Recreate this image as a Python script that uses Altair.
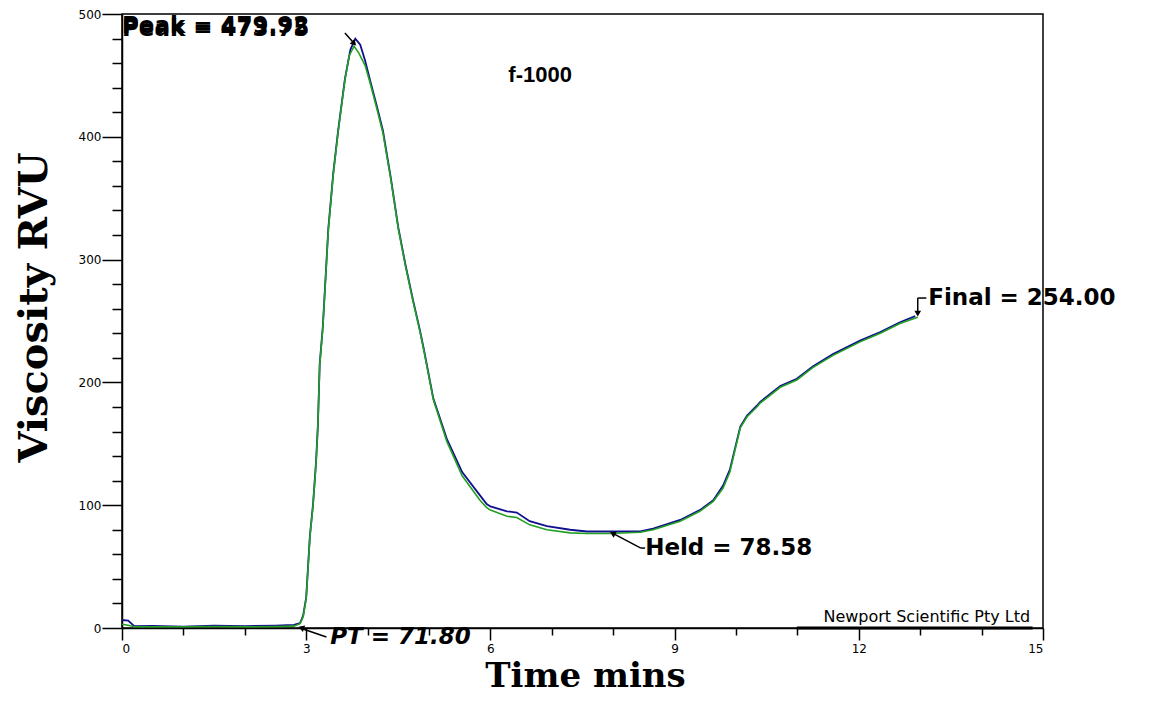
import altair as alt
import pandas as pd

# ---- series (time in minutes, viscosity in RVU) ----
blue_t = [0.00, 0.10, 0.20, 0.50, 1.00, 1.50, 2.00, 2.50, 2.80, 2.90, 2.95, 3.00, 3.03, 3.06,
          3.11, 3.16, 3.19, 3.22, 3.27, 3.36, 3.44, 3.52, 3.63, 3.72, 3.80, 3.88, 3.96, 4.04,
          4.15, 4.25, 4.38, 4.50, 4.62, 4.74, 4.85, 4.92, 5.07, 5.29, 5.54, 5.83, 5.94, 6.00,
          6.27, 6.43, 6.64, 6.92, 7.30, 7.57, 7.95, 8.44, 8.65, 9.09, 9.41, 9.63, 9.79, 9.90,
          10.07, 10.18, 10.34, 10.39, 10.72, 10.99, 11.25, 11.58, 12.02, 12.35, 12.67, 12.92]
blue_v = [6.5, 6.0, 1.5, 1.8, 1.2, 2.0, 1.6, 2.0, 2.5, 4.0, 10, 25, 50, 75,
          100, 135, 165, 215, 245, 325, 370, 405, 447, 471, 479.9, 475, 462, 446,
          425, 405, 366, 326, 295, 267, 243, 226, 187, 154, 127, 108, 101, 99,
          95, 94, 87, 83, 80, 78.6, 78.6, 78.6, 81, 88, 96, 104, 116, 129,
          164, 173, 181, 184, 197, 203, 213, 223, 234, 241, 249, 254]

green_t = [0.00, 0.12, 0.20, 0.50, 1.00, 1.50, 2.00, 2.50, 2.80, 2.90, 2.95, 3.00, 3.03, 3.06,
           3.11, 3.16, 3.19, 3.22, 3.27, 3.36, 3.44, 3.52, 3.63, 3.70, 3.78, 3.86, 3.96, 4.04,
           4.15, 4.25, 4.38, 4.50, 4.62, 4.74, 4.85, 4.92, 5.07, 5.29, 5.54, 5.83, 5.94, 6.00,
           6.27, 6.43, 6.64, 6.92, 7.30, 7.57, 7.95, 8.44, 8.65, 9.09, 9.41, 9.63, 9.79, 9.90,
           10.07, 10.18, 10.34, 10.39, 10.72, 10.99, 11.25, 11.58, 12.02, 12.35, 12.67, 12.96]
green_v = [3.0, 2.0, 1.0, 1.0, 1.0, 1.2, 1.0, 1.2, 1.5, 3.5, 9, 24, 49, 74,
           99, 134, 164, 214, 244, 324, 369, 404, 446, 466, 473.75, 468, 458, 444,
           423, 403, 365, 325, 294, 266, 242, 225, 186, 152, 124, 104, 98, 96,
           91, 90, 84, 80, 77.5, 77, 77, 78, 80, 87, 95, 103, 114, 127,
           163, 172, 180, 183, 196, 202, 212, 222, 233, 240, 248, 253]

x_major = [0, 3, 6, 9, 12, 15]
x_minor = [1, 2, 4, 5, 7, 8, 10, 11, 13, 14]
y_major = [0, 100, 200, 300, 400, 500]
y_minor = [20, 40, 60, 80, 120, 140, 160, 180, 220, 240, 260, 280,
           320, 340, 360, 380, 420, 440, 460, 480]

# annotations (text, anchor time, anchor value)
ann_text = ["Peak = 479.92", "Peak = 473.75", "Held = 78.58", "Final = 254.00"]
ann_t = [0.0, 0.0, 8.52, 13.13]
ann_v = [490.0, 487.6, 65.0, 268.7]
pt_text = ["PT = 71.80"]
pt_t = [3.39]
pt_v = [-7.3]
sample_text = ["f-1000"]
sample_t = [6.81]
sample_v = [450]
credit_text = ["Newport Scientific Pty Ltd"]
credit_t = [14.79]
credit_v = [9]

# leader lines from labels to the marked points
lead_t1 = [3.63, 7.98, 8.45, 2.90, 12.96, 12.96]
lead_v1 = [484.5, 77.4, 65.1, 0.0, 268.7, 268.7]
lead_t2 = [3.79, 8.45, 8.52, 3.33, 12.96, 13.10]
lead_v2 = [475.6, 65.1, 65.1, -7.3, 256.5, 268.7]
head_t = [3.78, 7.99, 2.92, 12.96]
head_v = [476.0, 77.0, 0.2, 256.0]
head_angle = [137, 298, 290, 180]

underline_t1 = [10.99]
underline_t2 = [14.83]
underline_v = [0]

blue_df = pd.DataFrame({"t": blue_t, "v": blue_v})
green_df = pd.DataFrame({"t": green_t, "v": green_v})
ann_df = pd.DataFrame({"label": ann_text, "t": ann_t, "v": ann_v})
pt_df = pd.DataFrame({"label": pt_text, "t": pt_t, "v": pt_v})
sample_df = pd.DataFrame({"label": sample_text, "t": sample_t, "v": sample_v})
credit_df = pd.DataFrame({"label": credit_text, "t": credit_t, "v": credit_v})
lead_df = pd.DataFrame({"t": lead_t1, "v": lead_v1, "t2": lead_t2, "v2": lead_v2})
head_df = pd.DataFrame({"t": head_t, "v": head_v, "a": head_angle})
under_df = pd.DataFrame({"t": underline_t1, "t2": underline_t2, "v": underline_v})

xs = alt.Scale(domain=[0, 15], nice=False, zero=False)
ys = alt.Scale(domain=[0, 500], nice=False)

label_font = "DejaVu Sans"
title_font = "DejaVu Serif"

x_axis = alt.Axis(values=x_major, title="Time mins", orient="bottom", grid=False,
                  domainColor="black", domainWidth=1.5, tickColor="black", tickWidth=1.5,
                  tickSize=12, labelFont=label_font, labelFontSize=12, labelColor="black",
                  labelPadding=3, titleFont=title_font, titleFontSize=34, titleFontWeight="bold",
                  titleColor="black", titleX=463, titleY=58, titleAlign="center",
                  titleBaseline="alphabetic", titleAnchor=None)
y_axis = alt.Axis(values=y_major, title="Viscosity RVU", orient="left", grid=False,
                  domainColor="black", domainWidth=1.5, tickColor="black", tickWidth=1.5,
                  tickSize=20, labelFont=label_font, labelFontSize=12, labelColor="black",
                  labelPadding=1, titleFont=title_font, titleFontSize=40, titleFontWeight="bold",
                  titleColor="black", titleX=-88, titleY=293, titleAngle=-90, titleAlign="center",
                  titleBaseline="middle")

blue = alt.Chart(blue_df).mark_line(color="#10108f", strokeWidth=1.8).encode(
    x=alt.X("t:Q", scale=xs, axis=x_axis),
    y=alt.Y("v:Q", scale=ys, axis=y_axis),
    order="t:Q",
)
green = alt.Chart(green_df).mark_line(color="#22a022", strokeWidth=1.6).encode(
    x=alt.X("t:Q", scale=xs, axis=None),
    y=alt.Y("v:Q", scale=ys, axis=None),
    order="t:Q",
)

minor_x = alt.Chart(pd.DataFrame({"t": x_minor})).mark_point(opacity=0).encode(
    x=alt.X("t:Q", scale=xs, axis=alt.Axis(values=x_minor, orient="bottom", labels=False,
                                            domain=False, grid=False, title=None,
                                            tickColor="black", tickWidth=1.5, tickSize=7)),
)
minor_y = alt.Chart(pd.DataFrame({"v": y_minor})).mark_point(opacity=0).encode(
    y=alt.Y("v:Q", scale=ys, axis=alt.Axis(values=y_minor, orient="left", labels=False,
                                            domain=False, grid=False, title=None,
                                            tickColor="black", tickWidth=1.5, tickSize=10)),
)

leads = alt.Chart(lead_df).mark_rule(color="black", strokeWidth=1.5).encode(
    x=alt.X("t:Q", scale=xs, axis=None), y=alt.Y("v:Q", scale=ys, axis=None),
    x2="t2:Q", y2="v2:Q",
)
heads = alt.Chart(head_df).mark_point(shape="triangle-up", filled=True, color="black",
                                      size=45, opacity=1).encode(
    x=alt.X("t:Q", scale=xs, axis=None), y=alt.Y("v:Q", scale=ys, axis=None),
    angle=alt.Angle("a:Q", scale=None),
)
underline = alt.Chart(under_df).mark_rule(color="black", strokeWidth=3).encode(
    x=alt.X("t:Q", scale=xs, axis=None), x2="t2:Q", y=alt.Y("v:Q", scale=ys, axis=None),
)

ann = alt.Chart(ann_df).mark_text(align="left", baseline="middle", font=label_font,
                                  fontSize=23, fontWeight="bold", color="black").encode(
    x=alt.X("t:Q", scale=xs, axis=None), y=alt.Y("v:Q", scale=ys, axis=None), text="label:N",
)
pt = alt.Chart(pt_df).mark_text(align="left", baseline="middle", font=label_font,
                                fontSize=23, fontWeight="bold", fontStyle="italic",
                                color="black").encode(
    x=alt.X("t:Q", scale=xs, axis=None), y=alt.Y("v:Q", scale=ys, axis=None), text="label:N",
)
sample = alt.Chart(sample_df).mark_text(align="center", baseline="middle",
                                        font="Liberation Sans", fontSize=22, fontWeight="bold",
                                        color="black").encode(
    x=alt.X("t:Q", scale=xs, axis=None), y=alt.Y("v:Q", scale=ys, axis=None), text="label:N",
)
credit = alt.Chart(credit_df).mark_text(align="right", baseline="middle", font=label_font,
                                        fontSize=16, color="black").encode(
    x=alt.X("t:Q", scale=xs, axis=None), y=alt.Y("v:Q", scale=ys, axis=None), text="label:N",
)

chart = alt.layer(
    minor_x, minor_y, blue, green, underline, leads, heads, ann, pt, sample, credit
).resolve_axis(x="independent", y="independent").properties(
    width=921, height=614,
    autosize=alt.AutoSizeParams(type="none"),
    padding={"left": 114, "top": 6, "right": 109, "bottom": 66},
    background="white",
).configure_view(stroke="black", strokeWidth=1.5)

chart.save("out.html", embed_options={"renderer": "svg", "actions": False})
